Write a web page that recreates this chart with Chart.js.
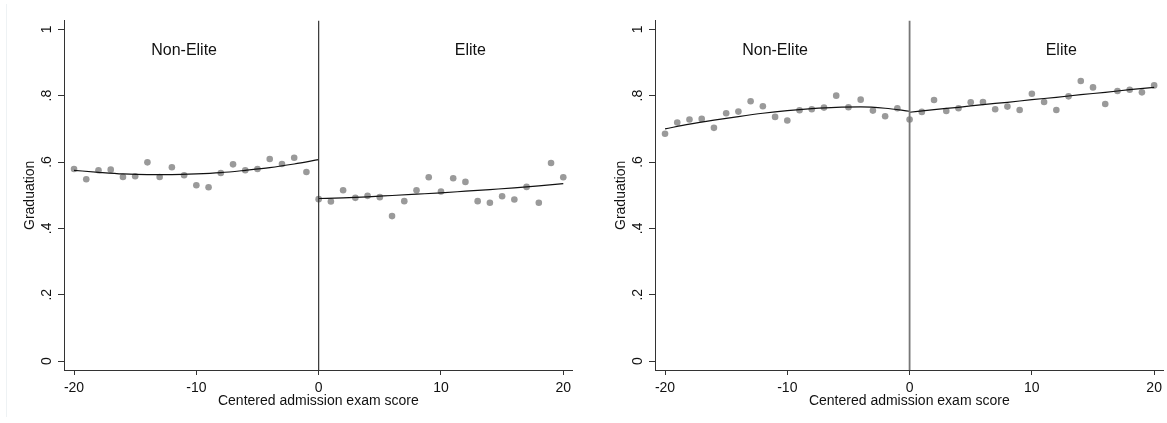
<!DOCTYPE html>
<html>
<head>
<meta charset="utf-8">
<script src="https://cdn.jsdelivr.net/npm/chart.js@4.4.1/dist/chart.umd.min.js"></script>
<style>
  body { margin: 0; background: #fff; }
  #wrap { position: relative; width: 1167px; height: 423px; }
  #edge { position: absolute; left: 6px; top: 4px; bottom: 6px; border-left: 1px solid #eef2f4; }
  canvas { position: absolute; top: 0; }
  #leftChart { left: 0; }
  #rightChart { left: 591px; }
</style>
</head>
<body>
<div id="wrap">
  <div id="edge"></div>
  <canvas id="leftChart" width="583" height="423"></canvas>
  <canvas id="rightChart" width="576" height="423"></canvas>
</div>
<script>
// Bins of centered admission exam score
const scoreBelow = [-20, -19, -18, -17, -16, -15, -14, -13, -12, -11, -10, -9, -8, -7, -6, -5, -4, -3, -2, -1];
const scoreAbove = [0, 1, 2, 3, 4, 5, 6, 7, 8, 9, 10, 11, 12, 13, 14, 15, 16, 17, 18, 19, 20];

// Left panel: binned graduation means
const leftNonElite = [0.579, 0.548, 0.575, 0.577, 0.555, 0.557, 0.599, 0.555, 0.584, 0.560,
  0.530, 0.524, 0.567, 0.593, 0.575, 0.579, 0.609, 0.594, 0.613, 0.570];
const leftElite = [0.488, 0.481, 0.515, 0.492, 0.498, 0.494, 0.437, 0.482, 0.515, 0.554, 0.511,
  0.551, 0.540, 0.482, 0.477, 0.497, 0.487, 0.525, 0.477, 0.597, 0.554];

// Right panel: binned graduation means
const rightNonElite = [0.685, 0.719, 0.728, 0.730, 0.703, 0.747, 0.752, 0.783, 0.768, 0.736,
  0.725, 0.756, 0.759, 0.764, 0.800, 0.765, 0.788, 0.755, 0.738, 0.762];
const rightElite = [0.728, 0.751, 0.787, 0.754, 0.762, 0.780, 0.781, 0.759, 0.767, 0.757, 0.806,
  0.781, 0.757, 0.798, 0.844, 0.825, 0.775, 0.814, 0.818, 0.810, 0.831];

// Fitted curves
const fitBelowX = [-20, -18, -16, -14, -12, -10, -8, -6, -4, -2, 0];
const fitAboveX = [0, 2, 4, 6, 8, 10, 12, 14, 16, 18, 20];
const leftFitNonElite = [0.575, 0.569, 0.564, 0.562, 0.562, 0.564, 0.568, 0.575, 0.583, 0.594, 0.607];
const leftFitElite = [0.490, 0.492, 0.495, 0.499, 0.503, 0.507, 0.512, 0.517, 0.522, 0.528, 0.535];
const rightFitNonElite = [0.700, 0.714, 0.726, 0.737, 0.747, 0.755, 0.761, 0.765, 0.766, 0.762, 0.753];
const rightFitElite = [0.750, 0.758, 0.765, 0.773, 0.780, 0.788, 0.795, 0.803, 0.810, 0.818, 0.825];

const xTicks = [-20, -10, 0, 10, 20];
const yTicks = [0, 0.2, 0.4, 0.6, 0.8, 1];
const yTickLabels = ['0', '.2', '.4', '.6', '.8', '1'];
const groupLabels = ['Non-Elite', 'Elite'];

const FONT = "'Liberation Sans', Arial, sans-serif";

const toPoints = (xs, ys) => xs.map((x, i) => ({ x: x, y: ys[i] }));

// Cutoff line at 0 plus the group labels
const panelDecor = {
  id: 'panelDecor',
  afterDatasetsDraw(chart, args, opts) {
    const { ctx, chartArea, scales } = chart;
    const px = scales.x.getPixelForValue(0);
    ctx.save();
    ctx.strokeStyle = opts.cutColor;
    ctx.lineWidth = opts.cutWidth;
    ctx.beginPath();
    ctx.moveTo(px, chartArea.top);
    ctx.lineTo(px, chartArea.bottom);
    ctx.stroke();

    ctx.fillStyle = '#111';
    ctx.font = '16px ' + FONT;
    ctx.textAlign = 'center';
    ctx.textBaseline = 'middle';
    const ly = scales.y.getPixelForValue(0.935);
    ctx.fillText(groupLabels[0], scales.x.getPixelForValue(-11), ly);
    ctx.fillText(groupLabels[1], scales.x.getPixelForValue(12.4), ly);
    ctx.restore();
  }
};

function makePanel(id, nonElite, elite, fitNonElite, fitElite, padRight, cutColor, cutWidth) {
  const dot = { type: 'scatter', pointRadius: 3.3, pointHoverRadius: 3.3,
    backgroundColor: '#9a9a9a', borderWidth: 0 };
  const fit = { type: 'line', pointRadius: 0, borderColor: '#111', borderWidth: 1.2,
    fill: false, cubicInterpolationMode: 'monotone' };

  return new Chart(document.getElementById(id).getContext('2d'), {
    type: 'scatter',
    data: {
      datasets: [
        Object.assign({ label: 'fit below', data: toPoints(fitBelowX, fitNonElite) }, fit),
        Object.assign({ label: 'fit above', data: toPoints(fitAboveX, fitElite) }, fit),
        Object.assign({ label: 'Non-Elite', data: toPoints(scoreBelow, nonElite) }, dot),
        Object.assign({ label: 'Elite', data: toPoints(scoreAbove, elite) }, dot)
      ]
    },
    options: {
      responsive: false,
      animation: false,
      events: [],
      layout: { padding: { top: 20.7, right: padRight, left: 0, bottom: 0 } },
      plugins: {
        legend: { display: false },
        tooltip: { enabled: false },
        panelDecor: { cutColor: cutColor, cutWidth: cutWidth }
      },
      scales: {
        x: {
          type: 'linear',
          min: -20.82,
          max: 20.77,
          afterBuildTicks: s => { s.ticks = xTicks.map(v => ({ value: v })); },
          afterFit: s => { s.height = 53; },
          grid: { drawOnChartArea: false, drawTicks: true, tickLength: 5, color: '#333', lineWidth: 1 },
          border: { display: true, color: '#333', width: 1 },
          ticks: { color: '#111', padding: 5, font: { family: FONT, size: 14 },
            maxRotation: 0, minRotation: 0 },
          title: { display: true, text: 'Centered admission exam score', color: '#111',
            font: { family: FONT, size: 14, lineHeight: 1.2 }, padding: { top: 0, bottom: 13 } }
        },
        y: {
          type: 'linear',
          min: -0.027,
          max: 1.026,
          afterBuildTicks: s => { s.ticks = yTicks.map(v => ({ value: v })); },
          afterFit: s => { s.width = 64; },
          grid: { drawOnChartArea: false, drawTicks: true, tickLength: 6, color: '#333', lineWidth: 1 },
          border: { display: true, color: '#333', width: 1 },
          ticks: {
            color: '#111', padding: 5, crossAlign: 'center',
            minRotation: 90, maxRotation: 90,
            font: { family: FONT, size: 14 },
            callback: (v) => yTickLabels[yTicks.indexOf(v)]
          },
          title: { display: true, text: 'Graduation', color: '#111',
            font: { family: FONT, size: 14, lineHeight: 1.2 }, padding: { top: 21.6, bottom: 0 } }
        }
      }
    },
    plugins: [panelDecor]
  });
}

makePanel('leftChart', leftNonElite, leftElite, leftFitNonElite, leftFitElite, 10.3, '#333', 1.2);
makePanel('rightChart', rightNonElite, rightElite, rightFitNonElite, rightFitElite, 3.3, '#777', 1.8);
</script>
</body>
</html>
